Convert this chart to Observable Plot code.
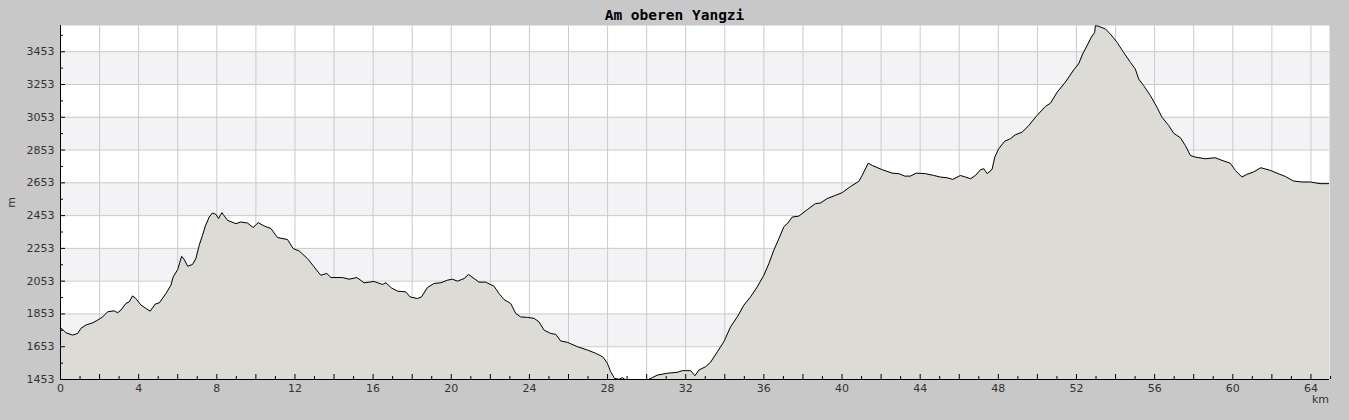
<!DOCTYPE html>
<html><head><meta charset="utf-8">
<script src="https://cdn.jsdelivr.net/npm/d3@7"></script>
<script src="https://cdn.jsdelivr.net/npm/@observablehq/plot@0.6"></script>
<style>
html,body{margin:0;padding:0;background:#c8c8c8;}
#wrap{position:relative;width:1349px;height:420px;overflow:hidden;}
#title{position:absolute;left:0;top:5px;width:1349px;text-align:center;font-family:"DejaVu Sans Mono",monospace;font-weight:bold;font-size:14.5px;line-height:20px;color:#000;z-index:2;}
#chart svg{display:block;}
</style>
</head><body>
<div id="wrap"><div id="title">Am oberen Yangzi</div><div id="chart"></div></div>
<script>
const km = [0.0,0.08,0.28,0.62,0.88,1.05,1.30,1.65,1.90,2.16,2.41,2.75,2.92,3.09,3.35,3.52,3.69,3.86,4.12,4.37,4.59,4.85,5.06,5.40,5.65,5.77,6.00,6.20,6.33,6.51,6.76,6.93,7.10,7.27,7.41,7.61,7.78,7.95,8.09,8.26,8.55,8.98,9.23,9.57,9.86,10.12,10.42,10.77,11.11,11.62,11.91,12.22,12.64,12.98,13.32,13.63,13.84,14.43,14.77,15.17,15.54,16.05,16.48,16.65,16.94,17.25,17.67,17.89,18.27,18.48,18.78,19.12,19.46,19.81,20.06,20.32,20.66,20.88,21.17,21.42,21.76,22.19,22.44,22.70,23.04,23.30,23.55,23.90,24.24,24.49,24.75,25.09,25.35,25.60,25.94,26.46,26.97,27.39,27.65,27.78,27.99,28.16,28.36,28.58,28.76,28.93,29.1,29.5,29.85,30.04,30.29,30.55,31.06,31.57,31.83,32.25,32.47,32.68,33.02,33.27,33.62,33.95,34.30,34.64,34.98,35.32,35.66,36.00,36.26,36.51,36.77,37.02,37.23,37.45,37.79,38.22,38.64,38.90,39.24,39.67,40.01,40.43,40.86,41.03,41.34,41.55,42.06,42.57,42.91,43.21,43.50,43.80,44.27,44.70,45.04,45.38,45.67,46.06,46.32,46.58,46.83,47.09,47.26,47.43,47.68,47.82,48.02,48.33,48.62,48.87,49.22,49.56,49.98,50.41,50.67,51.01,51.43,51.86,52.11,52.32,52.54,52.76,52.93,52.97,53.14,53.48,53.74,54.08,54.41,54.76,55.01,55.18,55.44,55.78,56.12,56.38,56.72,56.97,57.32,57.57,57.83,58.08,58.59,59.10,59.45,59.87,60.13,60.47,60.73,61.06,61.44,61.92,62.26,62.69,63.11,63.54,63.97,64.47,64.95];
const elev = [1765,1762,1738,1724,1734,1765,1785,1799,1815,1835,1866,1872,1860,1876,1917,1927,1963,1947,1907,1887,1870,1913,1921,1978,2028,2079,2124,2205,2185,2144,2155,2191,2272,2333,2388,2444,2469,2461,2435,2471,2424,2404,2414,2408,2380,2410,2390,2374,2319,2307,2252,2237,2191,2140,2089,2100,2075,2075,2065,2075,2043,2051,2033,2043,2012,1992,1988,1957,1947,1957,2014,2039,2043,2059,2065,2053,2069,2094,2069,2047,2047,2022,1978,1941,1917,1856,1835,1832,1826,1805,1754,1734,1728,1688,1680,1653,1633,1613,1598,1588,1552,1500,1460,1454,1464,1450,1432,1425,1435,1450,1464,1480,1491,1497,1507,1507,1476,1511,1531,1558,1622,1683,1775,1835,1907,1957,2018,2089,2161,2242,2313,2384,2408,2444,2450,2489,2526,2530,2557,2577,2593,2630,2662,2698,2773,2759,2733,2712,2709,2694,2694,2712,2709,2698,2688,2684,2674,2698,2688,2678,2698,2733,2739,2709,2735,2810,2861,2907,2922,2946,2962,3003,3064,3119,3139,3206,3267,3342,3379,3440,3490,3541,3571,3612,3608,3592,3560,3510,3449,3388,3348,3287,3246,3186,3114,3053,3003,2956,2928,2881,2820,2810,2800,2806,2790,2773,2729,2688,2705,2719,2745,2729,2712,2692,2664,2658,2658,2648,2648];
const xLabels = [0,4,8,12,16,20,24,28,32,36,40,44,48,52,56,60,64];
const yLabels = [1453,1653,1853,2053,2253,2453,2653,2853,3053,3253,3453];
const bandLow = [1653,2053,2453,2853,3253];
const xGrid = d3.range(0, 65, 2);
const xMinor = d3.range(0, 66, 1);
const yMinor = d3.range(1453, 3613, 100);
const kmMax = 64.95, yMin = 1453, yMax = 3613;

const profile = km.map((k, i) => ({km: k, elev: elev[i]}));

const W = 1349, H = 420, mL = 60, mR = 20, mT = 25, mB = 41;
const plotW = W - mL - mR, plotH = H - mT - mB;

const chart = Plot.plot({
  width: W, height: H,
  marginLeft: mL, marginRight: mR, marginTop: mT, marginBottom: mB,
  style: {background: "transparent", fontFamily: "DejaVu Sans", fontSize: "11px", color: "#333", overflow: "visible"},
  x: {domain: [0, kmMax]},
  y: {domain: [yMin, yMax]},
  marks: [
    Plot.frame({fill: "white", stroke: null}),
    Plot.rect(bandLow, {y1: d => d, y2: d => d + 200, fill: "#f3f2f5"}),
    Plot.gridX(xGrid, {stroke: "#cbcbcb", strokeOpacity: 1}),
    Plot.gridY(yLabels, {stroke: "#cbcbcb", strokeOpacity: 1}),
    Plot.areaY(profile, {x: "km", y1: 0, y2: "elev", fill: "#dcdbd6", clip: true}),
    Plot.lineY(profile, {x: "km", y: "elev", stroke: "black", strokeWidth: 1, clip: true}),
    Plot.tickX(xMinor.filter(d => d % 2 === 0), {x: d => d, insetTop: plotH - 5, stroke: "black"}),
    Plot.tickX(xMinor.filter(d => d % 2 === 1), {x: d => d, insetTop: plotH - 3, stroke: "black"}),
    Plot.tickY(yLabels, {y: d => d, insetRight: plotW - 5, stroke: "black"}),
    Plot.tickY(yMinor.filter(d => (d - 1453) % 200 !== 0), {y: d => d, insetRight: plotW - 3, stroke: "black"}),
    Plot.ruleX([0], {stroke: "black"}),
    Plot.ruleY([yMin], {stroke: "black"}),
    Plot.axisX({ticks: xLabels, tickSize: 0, tickPadding: 5, label: null, fill: "#333", tickFormat: d => String(d)}),
    Plot.axisY({ticks: yLabels, tickSize: 0, tickPadding: 6, label: null, fill: "#333", tickFormat: d => String(d)}),
    Plot.text(["km"], {frameAnchor: "bottom-right", text: d => d, dx: -9, dy: 20, textAnchor: "middle", lineAnchor: "middle", fill: "#333", fontSize: 11}),
    Plot.text(["m"], {frameAnchor: "left", text: d => d, dx: -49, rotate: -90, textAnchor: "middle", lineAnchor: "middle", fill: "#333", fontSize: 11})
  ]
});
document.getElementById("chart").appendChild(chart);
</script>
</body></html>
